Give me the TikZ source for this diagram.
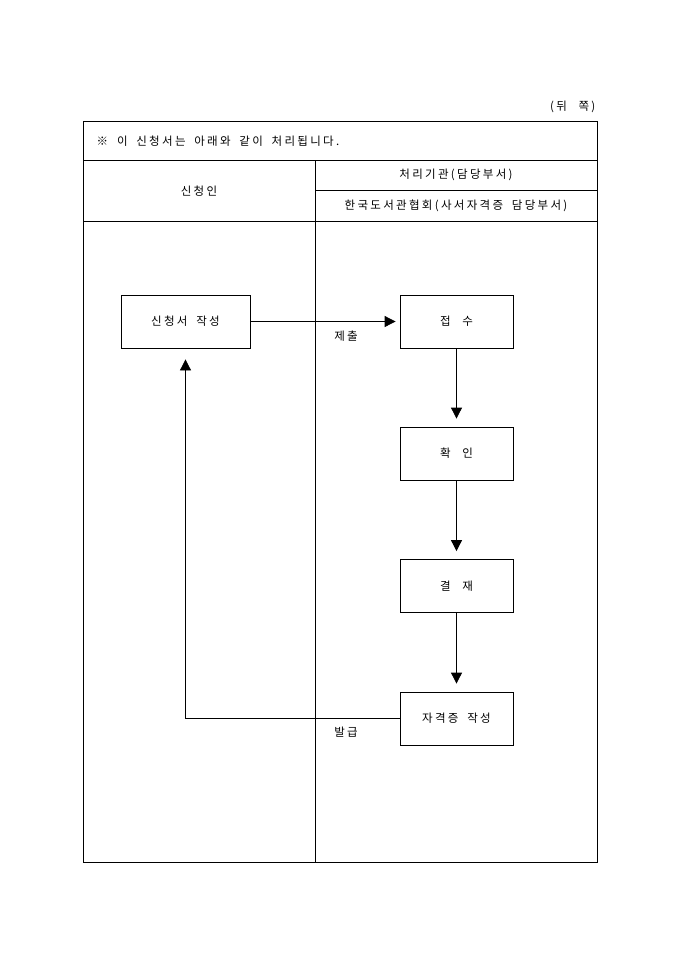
\documentclass[tikz,border=0pt]{standalone}
\usepackage{fontspec}
\setmainfont[LetterSpace=20,WordSpace=1.8]{Noto Sans CJK KR}
\usepackage{tikz}
\usetikzlibrary{arrows.meta,positioning}
\tikzset{box/.style={rectangle,draw,minimum width=113pt,minimum height=53pt,inner sep=0pt}}
\tikzset{tri/.style={-{Triangle[length=11pt,width=11pt]}}}

\begin{document}
\begin{tikzpicture}[x=1pt,y=-1pt,line width=0.8pt,font=\fontsize{11.5pt}{13pt}\selectfont]
        \useasboundingbox (0,0) rectangle (680,962);
        % table frame
        \draw (83,121) rectangle (597,862);
        \draw (83,160) -- (597,160);
        \draw (83,221) -- (597,221);
        \draw (315,160) -- (315,862);
        \draw (315,190) -- (597,190);

        \node[anchor=east] (page)at (599,107) {(뒤\quad 쪽)};
        \node[anchor=west] (note)at (93,141) {※ 이 신청서는 아래와 같이 처리됩니다.};
        \node (who)at (199,191) {신청인};
        \node (org)at (456,175) {처리기관(담당부서)};
        \node (dept)at (456,206) {한국도서관협회(사서자격증 담당부서)};

        \node[box,minimum width=129pt] (a)at (185.5,321.5) {신청서 작성};
        \node[box] (b)at (456.5,321.5) {접\quad 수};
        \node[box] (c)at (456.5,453.5) {확\quad 인};
        \node[box] (d)at (456.5,586) {결\quad 재};
        \node[box] (e)at (456.5,718.5) {자격증 작성};

        \node (sub)at (346,336) {제출};
        \node (iss)at (346,732) {발급};

        \draw [tri,shorten >=4pt] (a) to []node[]{} (b);
        \draw [tri,shorten >=8pt] (b) to []node[]{} (c);
        \draw [tri,shorten >=8pt] (c) to []node[]{} (d);
        \draw [tri,shorten >=8pt] (d) to []node[]{} (e);
        \draw [tri,shorten >=11pt] (e) -| (a);
    \end{tikzpicture}
\end{document}
